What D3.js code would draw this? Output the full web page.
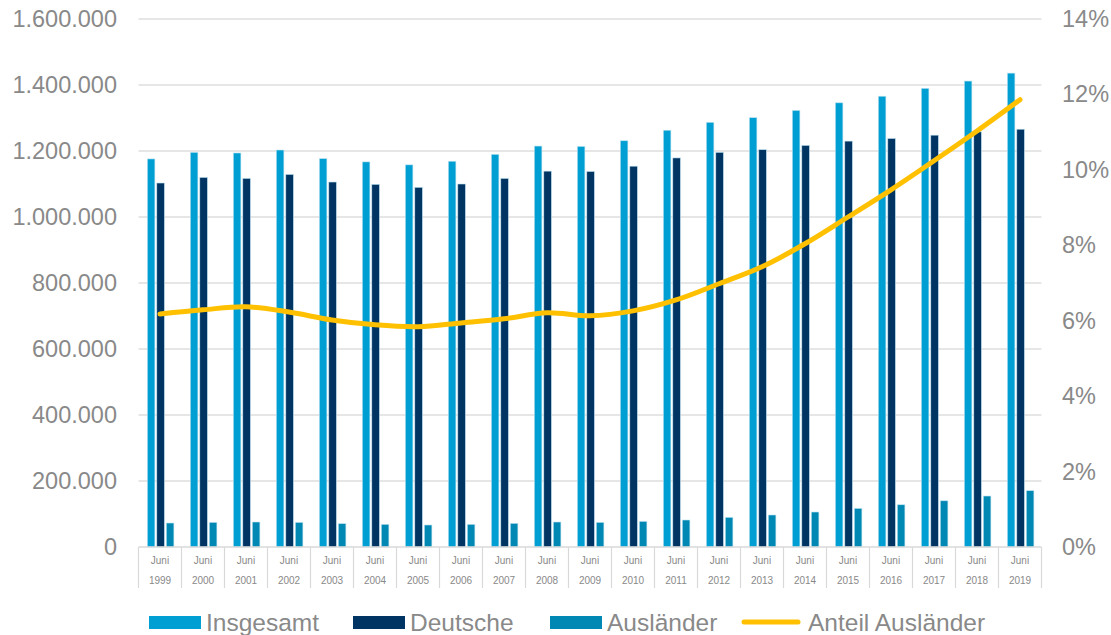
<!DOCTYPE html>
<html>
<head>
<meta charset="utf-8">
<script src="https://cdn.jsdelivr.net/npm/d3@7"></script>
<style>
  body { margin: 0; background: #fff; }
  svg text { font-family: "Liberation Sans", Arial, sans-serif; }
</style>
</head>
<body>
<svg id="chart"></svg>
<script>
// data
let years = ["1999","2000","2001","2002","2003","2004","2005","2006","2007","2008","2009",
             "2010","2011","2012","2013","2014","2015","2016","2017","2018","2019"];
let insgesamt = [1176000,1196000,1194000,1203000,1177000,1167000,1158000,1169000,1190000,1215000,1214000,
                 1231000,1263000,1287000,1301000,1323000,1346000,1366000,1390000,1412000,1436000];
let deutsche = [1103000,1120000,1117000,1129000,1106000,1099000,1090000,1100000,1117000,1139000,1138000,
                1154000,1179000,1196000,1204000,1217000,1230000,1238000,1248000,1258000,1266000];
let auslaender = [72700,74700,75700,74700,70700,68700,66700,68700,71700,75700,74700,
                  77700,81800,89900,97000,106000,117000,128000,140000,154500,170600];
let anteil = [0.0618,0.0629,0.0637,0.0623,0.0602,0.0589,0.0584,0.0594,0.0605,0.0621,0.0613,
              0.0626,0.0655,0.0698,0.0743,0.0804,0.0875,0.0947,0.1024,0.1103,0.1186];
let leftTicks = [0,200000,400000,600000,800000,1000000,1200000,1400000,1600000];
let rightTicks = [0,0.02,0.04,0.06,0.08,0.10,0.12,0.14];
let seriesNames = ["Insgesamt","Deutsche","Ausländer"];
let colors = {"Insgesamt":"#009fd3","Deutsche":"#003462","Ausländer":"#0088b4"};
let lineColor = "#ffc000";
let textColor = "#898989";

let svg = d3.select("#chart").attr("width",1111).attr("height",635);

let x = d3.scaleBand().domain(years).range([138.5,1041.5]).padding(0);
let xi = d3.scaleBand().domain(seriesNames).range([8.8,35.4]).paddingInner(0.2).paddingOuter(0);
let y = d3.scaleLinear().domain([0,1600000]).range([547,19]);
let y2 = d3.scaleLinear().domain([0,0.14]).range([547,19]);

let fmt = d3.formatLocale({decimal:",",thousands:".",grouping:[3],currency:["","€"]}).format(",.0f");

// gridlines
svg.append("g")
    .selectAll("line")
    .data(leftTicks.slice(1))
    .join("line")
    .attr("x1",138.5).attr("x2",1041.5)
    .attr("y1",d => y(d)).attr("y2",d => y(d))
    .attr("stroke","#dedede").attr("stroke-width",1.5);

// left axis
let gl = svg.append("g").attr("transform","translate(117,0)")
    .call(d3.axisLeft(y).tickValues(leftTicks).tickSize(0).tickPadding(0).tickFormat(fmt));
gl.select(".domain").remove();
gl.selectAll("text").attr("font-size",23.5).attr("fill",textColor).attr("font-family","Liberation Sans, Arial");

// right axis
let gr = svg.append("g").attr("transform","translate(1062,0)")
    .call(d3.axisRight(y2).tickValues(rightTicks).tickSize(0).tickPadding(0).tickFormat(d3.format(".0%")));
gr.select(".domain").remove();
gr.selectAll("text").attr("font-size",23.5).attr("fill",textColor).attr("font-family","Liberation Sans, Arial");

// bars
let rows = years.map((yr,i) => ({year:yr, values:[
    {name:"Insgesamt", v:insgesamt[i]},
    {name:"Deutsche", v:deutsche[i]},
    {name:"Ausländer", v:auslaender[i]}]}));

svg.append("g")
    .selectAll("g")
    .data(rows)
    .join("g")
    .attr("transform",d => "translate(" + x(d.year) + ",0)")
    .selectAll("rect")
    .data(d => d.values)
    .join("rect")
    .attr("x",d => xi(d.name))
    .attr("width",xi.bandwidth())
    .attr("y",d => y(d.v))
    .attr("height",d => y(0) - y(d.v))
    .attr("fill",d => colors[d.name])
    .attr("stroke","#bfe3f0").attr("stroke-width",0.6);

// category axis
let xa = svg.append("g");
xa.append("line").attr("x1",138.5).attr("x2",1041.5).attr("y1",547).attr("y2",547)
    .attr("stroke","#d9d9d9").attr("stroke-width",1.5);
xa.selectAll("line.div")
    .data(years.concat(["end"]))
    .join("line").attr("class","div")
    .attr("x1",(d,i) => 138.5 + i*x.step()).attr("x2",(d,i) => 138.5 + i*x.step())
    .attr("y1",547).attr("y2",588)
    .attr("stroke","#d9d9d9").attr("stroke-width",1.2);
xa.selectAll("text.m")
    .data(years).join("text").attr("class","m")
    .attr("x",d => x(d) + x.bandwidth()/2).attr("y",564)
    .attr("text-anchor","middle").attr("font-size",10).attr("fill",textColor)
    .text("Juni");
xa.selectAll("text.yr")
    .data(years).join("text").attr("class","yr")
    .attr("x",d => x(d) + x.bandwidth()/2).attr("y",584)
    .attr("text-anchor","middle").attr("font-size",10).attr("fill",textColor)
    .text(d => d);

// line
let line = d3.line()
    .x((d,i) => x(years[i]) + x.bandwidth()/2)
    .y(d => y2(d))
    .curve(d3.curveCatmullRom.alpha(0.5));

svg.append("path")
    .datum(anteil)
    .attr("fill","none")
    .attr("stroke",lineColor)
    .attr("stroke-width",5)
    .attr("stroke-linejoin","round")
    .attr("stroke-linecap","round")
    .attr("d",line);

// legend
let legend = [
    {name:"Insgesamt", x:149, type:"rect"},
    {name:"Deutsche", x:353, type:"rect"},
    {name:"Ausländer", x:550, type:"rect"},
    {name:"Anteil Ausländer", x:741, type:"line"}
];
let lg = svg.append("g");
legend.forEach(l => {
    if (l.type == "rect") {
        lg.append("rect").attr("x",l.x).attr("y",616).attr("width",52).attr("height",13)
            .attr("fill",colors[l.name]);
        lg.append("text").attr("x",l.x + 57).attr("y",631).attr("font-size",24.5)
            .attr("fill",textColor).text(l.name);
    } else {
        lg.append("line").attr("x1",l.x + 3).attr("x2",l.x + 57).attr("y1",622).attr("y2",622)
            .attr("stroke",lineColor).attr("stroke-width",5).attr("stroke-linecap","round");
        lg.append("text").attr("x",l.x + 67).attr("y",631).attr("font-size",24.5)
            .attr("fill",textColor).text(l.name);
    }
});
</script>
</body>
</html>
